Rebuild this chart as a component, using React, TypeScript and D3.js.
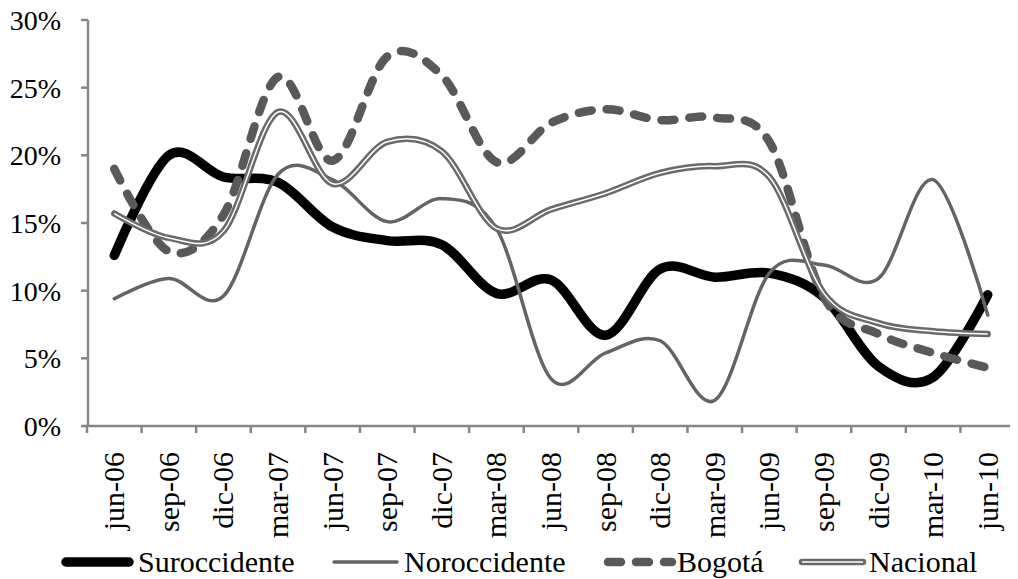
import * as d3 from 'd3';

const categories = [
  'jun-06', 'sep-06', 'dic-06', 'mar-07', 'jun-07', 'sep-07', 'dic-07', 'mar-08', 'jun-08',
  'sep-08', 'dic-08', 'mar-09', 'jun-09', 'sep-09', 'dic-09', 'mar-10', 'jun-10',
];

const suroccidente = [12.6, 20.0, 18.4, 18.0, 14.7, 13.7, 13.4, 9.8, 10.8, 6.7, 11.6, 11.0, 11.3, 9.5, 4.4, 3.6, 9.7];
const noroccidente = [9.4, 10.9, 9.6, 18.6, 18.2, 15.1, 16.8, 14.6, 3.5, 5.4, 6.3, 1.9, 11.3, 11.9, 10.9, 18.2, 8.2];
const bogota = [19.0, 12.9, 15.6, 25.8, 19.6, 27.3, 25.9, 19.5, 22.4, 23.4, 22.6, 22.8, 21.0, 9.5, 6.8, 5.4, 4.3];
const nacional = [15.7, 13.9, 14.4, 23.2, 17.9, 21.0, 20.3, 14.6, 16.0, 17.2, 18.7, 19.2, 18.4, 9.8, 7.6, 7.0, 6.8];

const yTicks = [0, 5, 10, 15, 20, 25, 30];

const W = 1018;
const H = 579;
const FONT = 'Liberation Serif, Times New Roman, serif';
const AXIS = '#868686';

const x = d3.scaleBand<string>().domain(categories).range([87, 1015]).padding(0);
const y = d3.scaleLinear().domain([0, 30]).range([426, 20]);
const cx = (c: string) => (x(c) as number) + x.bandwidth() / 2;

// excel-style smoothed lines
const line = d3.line<number>()
  .x((_, i) => cx(categories[i]))
  .y((d) => y(d))
  .curve(d3.curveCardinal.tension(0));

const legendItems = [
  { name: 'Suroccidente', x1: 66, x2: 129, tx: 138 },
  { name: 'Noroccidente', x1: 334, x2: 397, tx: 404 },
  { name: 'Bogotá', x1: 608, x2: 672, tx: 677 },
  { name: 'Nacional', x1: 802, x2: 863, tx: 869 },
];

const styles = [
  { stroke: '#000', width: 9.5 },
  { stroke: '#646464', width: 3.5 },
  { stroke: '#595959', width: 8.5, dash: '13 15' },
  { stroke: '#6a6a6a', width: 6.5, inner: true },
];

export default function App() {
  const series = [suroccidente, noroccidente, bogota, nacional];
  const ly = 562;
  const ticks = categories.map((c) => x(c) as number).concat([1015]);

  return (
    <svg
      width={W}
      height={H}
      fontFamily={FONT}
      style={{ display: 'block', marginLeft: -8, marginTop: -8 }}
    >
      <rect width={W} height={H} fill="#fff" />

      {/* y axis */}
      <line x1={88} x2={88} y1={y(30)} y2={y(0)} stroke={AXIS} strokeWidth={2.5} />
      {yTicks.map((t) => (
        <g key={t}>
          <line x1={81} x2={88} y1={y(t)} y2={y(t)} stroke={AXIS} strokeWidth={2.5} />
          <text x={61} y={y(t) + 10} textAnchor="end" fontFamily={FONT} fontSize={28} fill="#000">
            {`${t}%`}
          </text>
        </g>
      ))}

      {/* x axis */}
      <line x1={87} x2={1015} y1={y(0)} y2={y(0)} stroke={AXIS} strokeWidth={2.5} />
      {ticks.map((p, i) => (
        <line key={i} x1={p} x2={p} y1={y(0)} y2={y(0) + 7} stroke={AXIS} strokeWidth={2.5} />
      ))}
      {categories.map((c) => (
        <text
          key={c}
          transform={`translate(${cx(c) + 10},452) rotate(-90)`}
          textAnchor="end"
          fontFamily={FONT}
          fontSize={30}
          fill="#000"
        >
          {c}
        </text>
      ))}

      {/* series */}
      {series.map((s, i) => {
        const st = styles[i];
        return (
          <g key={i}>
            <path
              d={line(s) ?? ''}
              fill="none"
              stroke={st.stroke}
              strokeWidth={st.width}
              strokeDasharray={st.dash}
              strokeLinecap="round"
              strokeLinejoin="round"
            />
            {st.inner && <path d={line(s) ?? ''} fill="none" stroke="#fff" strokeWidth={1.5} />}
          </g>
        );
      })}

      {/* legend */}
      {legendItems.map((l, i) => {
        const st = styles[i];
        return (
          <g key={l.name}>
            <line
              x1={l.x1}
              x2={l.x2}
              y1={ly}
              y2={ly}
              stroke={st.stroke}
              strokeWidth={st.width}
              strokeDasharray={st.dash}
              strokeLinecap="round"
            />
            {st.inner && <line x1={l.x1} x2={l.x2} y1={ly} y2={ly} stroke="#fff" strokeWidth={1.5} />}
            <text x={l.tx} y={ly + 10} fontFamily={FONT} fontSize={30} fill="#000">
              {l.name}
            </text>
          </g>
        );
      })}
    </svg>
  );
}
